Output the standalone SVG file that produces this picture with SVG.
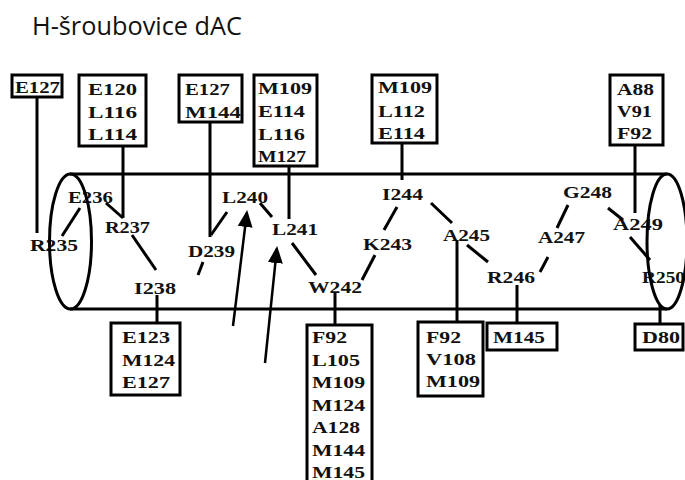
<svg xmlns="http://www.w3.org/2000/svg" width="685" height="480" viewBox="0 0 685 480">
<style>
.cyl{fill:none;stroke:#000;stroke-width:3}
.box{fill:#fff;stroke:#000;stroke-width:3}
.c{fill:none;stroke:#000;stroke-width:3}
.ar{fill:none;stroke:#000;stroke-width:2.5}
.t{font-family:"Liberation Serif",serif;font-weight:bold;font-size:17px;fill:#111}
.title{font-family:"Open Sans",sans-serif;font-size:25px;fill:#111}
</style>
<defs>
<marker id="ah" markerUnits="userSpaceOnUse" markerWidth="18" markerHeight="16" refX="14" refY="7.5" orient="auto">
<path d="M0,0 L17,7.5 L0,15 z" fill="#000"/>
</marker>
</defs>
<rect width="685" height="480" fill="#fff"/>
<text class="title" x="32" y="35" textLength="210" lengthAdjust="spacingAndGlyphs">H-šroubovice dAC</text>

<g id="residues">
<g id="R235"><text class="t" x="30" y="251" textLength="48" lengthAdjust="spacingAndGlyphs">R235</text></g>
<g id="E236"><text class="t" x="68" y="203" textLength="45" lengthAdjust="spacingAndGlyphs">E236</text></g>
<g id="R237"><text class="t" x="105" y="233" textLength="45" lengthAdjust="spacingAndGlyphs">R237</text></g>
<g id="I238"><text class="t" x="134" y="294" textLength="42" lengthAdjust="spacingAndGlyphs">I238</text></g>
<g id="D239"><text class="t" x="188" y="257" textLength="47" lengthAdjust="spacingAndGlyphs">D239</text></g>
<g id="L240"><text class="t" x="222" y="203" textLength="46" lengthAdjust="spacingAndGlyphs">L240</text></g>
<g id="L241"><text class="t" x="272" y="235" textLength="46" lengthAdjust="spacingAndGlyphs">L241</text></g>
<g id="W242"><text class="t" x="308" y="293" textLength="54" lengthAdjust="spacingAndGlyphs">W242</text></g>
<g id="K243"><text class="t" x="363" y="250" textLength="49" lengthAdjust="spacingAndGlyphs">K243</text></g>
<g id="I244"><text class="t" x="382" y="200" textLength="41" lengthAdjust="spacingAndGlyphs">I244</text></g>
<g id="A245"><text class="t" x="443" y="241" textLength="47" lengthAdjust="spacingAndGlyphs">A245</text></g>
<g id="R246"><text class="t" x="487" y="283" textLength="48" lengthAdjust="spacingAndGlyphs">R246</text></g>
<g id="A247"><text class="t" x="538" y="243" textLength="47" lengthAdjust="spacingAndGlyphs">A247</text></g>
<g id="G248"><text class="t" x="563" y="198" textLength="49" lengthAdjust="spacingAndGlyphs">G248</text></g>
<g id="A249"><text class="t" x="613" y="230" textLength="50" lengthAdjust="spacingAndGlyphs">A249</text></g>
<g id="R250"><text class="t" x="642" y="283" textLength="43" lengthAdjust="spacingAndGlyphs">R250</text></g>
</g>

<g id="helix">
<line class="cyl" x1="70" y1="174" x2="667" y2="174"/>
<line class="cyl" x1="70" y1="309" x2="667" y2="309"/>
<ellipse class="cyl" cx="70.5" cy="241.5" rx="21" ry="67.5"/>
<ellipse class="cyl" cx="667" cy="241.5" rx="20" ry="67.5"/>
</g>

<g id="connectors">
<line class="c" x1="37" y1="97" x2="37" y2="233"/>
<line class="c" x1="123" y1="146" x2="123" y2="218"/>
<line class="c" x1="210" y1="122" x2="210" y2="237"/>
<line class="c" x1="289" y1="166" x2="289" y2="219"/>
<line class="c" x1="402" y1="143" x2="402" y2="180"/>
<line class="c" x1="635" y1="145" x2="635" y2="213"/>
<line class="c" x1="157" y1="295" x2="157" y2="323"/>
<line class="c" x1="335" y1="293" x2="335" y2="325"/>
<line class="c" x1="457" y1="240" x2="457" y2="322"/>
<line class="c" x1="517" y1="285" x2="517" y2="323"/>
<line class="c" x1="660" y1="305" x2="660" y2="324"/>
<line class="c" x1="80" y1="208" x2="62" y2="236"/>
<line class="c" x1="106" y1="203" x2="123" y2="218"/>
<line class="c" x1="132" y1="235" x2="156" y2="270"/>
<line class="c" x1="211" y1="235" x2="227" y2="212"/>
<line class="c" x1="203" y1="262" x2="198" y2="275"/>
<line class="c" x1="260" y1="203" x2="272" y2="217"/>
<line class="c" x1="292" y1="243" x2="316" y2="275"/>
<line class="c" x1="362" y1="280" x2="375" y2="255"/>
<line class="c" x1="384" y1="230" x2="397" y2="207"/>
<line class="c" x1="431" y1="203" x2="452" y2="223"/>
<line class="c" x1="467" y1="245" x2="488" y2="262"/>
<line class="c" x1="540" y1="272" x2="548" y2="257"/>
<line class="c" x1="557" y1="228" x2="568" y2="205"/>
<line class="c" x1="608" y1="208" x2="623" y2="220"/>
<line class="c" x1="630" y1="237" x2="650" y2="260"/>
<line class="ar" x1="233" y1="326" x2="246.8" y2="213" marker-end="url(#ah)"/>
<line class="ar" x1="265" y1="363" x2="276.8" y2="249" marker-end="url(#ah)"/>
</g>

<g id="box-E127">
<rect class="box" x="12" y="75" width="50" height="22"/>
<text class="t" x="15" y="93" textLength="45" lengthAdjust="spacingAndGlyphs">E127</text>
</g>
<g id="box-E120">
<rect class="box" x="79" y="75" width="67" height="71"/>
<text class="t" x="88" y="95" textLength="49" lengthAdjust="spacingAndGlyphs">E120</text>
<text class="t" x="88" y="118" textLength="49" lengthAdjust="spacingAndGlyphs">L116</text>
<text class="t" x="88" y="140" textLength="49" lengthAdjust="spacingAndGlyphs">L114</text>
</g>
<g id="box-E127-M144">
<rect class="box" x="179" y="75" width="63" height="47"/>
<text class="t" x="185" y="95" textLength="45" lengthAdjust="spacingAndGlyphs">E127</text>
<text class="t" x="185" y="118" textLength="56" lengthAdjust="spacingAndGlyphs">M144</text>
</g>
<g id="box-M109-M127">
<rect class="box" x="254" y="75" width="63" height="91"/>
<text class="t" x="258" y="94" textLength="54" lengthAdjust="spacingAndGlyphs">M109</text>
<text class="t" x="258" y="117" textLength="47" lengthAdjust="spacingAndGlyphs">E114</text>
<text class="t" x="258" y="140" textLength="47" lengthAdjust="spacingAndGlyphs">L116</text>
<text class="t" x="258" y="162" textLength="48" lengthAdjust="spacingAndGlyphs">M127</text>
</g>
<g id="box-M109-E114">
<rect class="box" x="372" y="75" width="65" height="68"/>
<text class="t" x="378" y="93" textLength="54" lengthAdjust="spacingAndGlyphs">M109</text>
<text class="t" x="378" y="117" textLength="47" lengthAdjust="spacingAndGlyphs">L112</text>
<text class="t" x="378" y="139" textLength="47" lengthAdjust="spacingAndGlyphs">E114</text>
</g>
<g id="box-A88">
<rect class="box" x="610" y="75" width="53" height="70"/>
<text class="t" x="617" y="95" textLength="37" lengthAdjust="spacingAndGlyphs">A88</text>
<text class="t" x="617" y="117" textLength="35" lengthAdjust="spacingAndGlyphs">V91</text>
<text class="t" x="617" y="139" textLength="35" lengthAdjust="spacingAndGlyphs">F92</text>
</g>
<g id="box-E123">
<rect class="box" x="111" y="323" width="69" height="72"/>
<text class="t" x="122" y="343" textLength="48" lengthAdjust="spacingAndGlyphs">E123</text>
<text class="t" x="122" y="366" textLength="53" lengthAdjust="spacingAndGlyphs">M124</text>
<text class="t" x="122" y="388" textLength="48" lengthAdjust="spacingAndGlyphs">E127</text>
</g>
<g id="box-F92-M145">
<rect class="box" x="307" y="325" width="65" height="165"/>
<text class="t" x="312" y="343" textLength="35" lengthAdjust="spacingAndGlyphs">F92</text>
<text class="t" x="312" y="366" textLength="48" lengthAdjust="spacingAndGlyphs">L105</text>
<text class="t" x="312" y="388" textLength="53" lengthAdjust="spacingAndGlyphs">M109</text>
<text class="t" x="312" y="411" textLength="53" lengthAdjust="spacingAndGlyphs">M124</text>
<text class="t" x="312" y="433" textLength="48" lengthAdjust="spacingAndGlyphs">A128</text>
<text class="t" x="312" y="456" textLength="53" lengthAdjust="spacingAndGlyphs">M144</text>
<text class="t" x="312" y="478" textLength="53" lengthAdjust="spacingAndGlyphs">M145</text>
</g>
<g id="box-F92-M109">
<rect class="box" x="418" y="322" width="65" height="74"/>
<text class="t" x="426" y="343" textLength="35" lengthAdjust="spacingAndGlyphs">F92</text>
<text class="t" x="426" y="365" textLength="50" lengthAdjust="spacingAndGlyphs">V108</text>
<text class="t" x="426" y="387" textLength="54" lengthAdjust="spacingAndGlyphs">M109</text>
</g>
<g id="box-M145">
<rect class="box" x="487" y="323" width="70" height="27"/>
<text class="t" x="493" y="343" textLength="52" lengthAdjust="spacingAndGlyphs">M145</text>
</g>
<g id="box-D80">
<rect class="box" x="635" y="324" width="48" height="26"/>
<text class="t" x="642" y="343" textLength="38" lengthAdjust="spacingAndGlyphs">D80</text>
</g>
</svg>
